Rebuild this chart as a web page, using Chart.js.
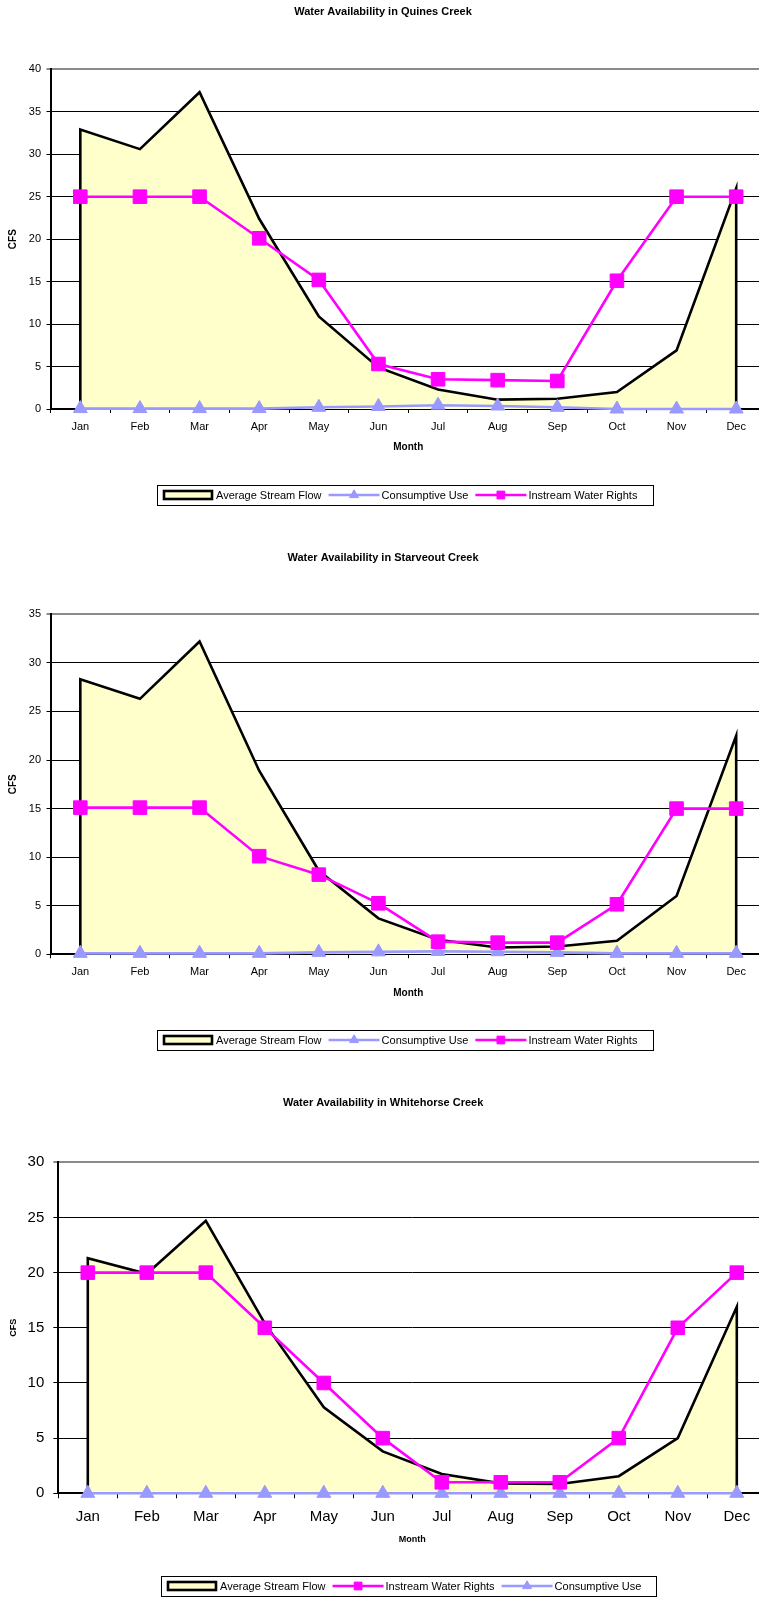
<!DOCTYPE html>
<html>
<head>
<meta charset="utf-8">
<title>Water Availability</title>
<script src="https://cdn.jsdelivr.net/npm/chart.js@4.4.0/dist/chart.umd.min.js"></script>
<style>
  html, body { margin: 0; padding: 0; background: #fff; overflow: hidden; }
  #page { position: relative; width: 759px; height: 1597px; overflow: hidden; background: #fff; }
  .panel { position: absolute; left: 0; }
  .panel canvas { display: block; }
</style>
</head>
<body>
<div id="page">
  <div class="panel" style="top:0px"><canvas id="quines" width="780" height="530"></canvas></div>
  <div class="panel" style="top:530px"><canvas id="starveout" width="780" height="535"></canvas></div>
  <div class="panel" style="top:1065px"><canvas id="whitehorse" width="780" height="532"></canvas></div>
</div>
<script>
// Monthly values in cubic feet per second
const months = ['Jan', 'Feb', 'Mar', 'Apr', 'May', 'Jun', 'Jul', 'Aug', 'Sep', 'Oct', 'Nov', 'Dec'];

const quinesFlow   = [32.9, 30.6, 37.3, 22.4, 10.9, 4.9, 2.3, 1.1, 1.2, 2.0, 6.9, 26.0];
const quinesUse    = [0.05, 0.05, 0.05, 0.05, 0.2, 0.3, 0.45, 0.35, 0.2, 0.0, 0.0, 0.0];
const quinesRights = [25, 25, 25, 20.1, 15.2, 5.3, 3.5, 3.4, 3.3, 15.1, 25, 25];

const starveFlow   = [28.3, 26.3, 32.2, 18.9, 8.6, 3.7, 1.5, 0.7, 0.8, 1.4, 6.0, 22.5];
const starveUse    = [0.1, 0.1, 0.1, 0.1, 0.2, 0.25, 0.3, 0.27, 0.2, 0.1, 0.1, 0.1];
const starveRights = [15.1, 15.1, 15.1, 10.1, 8.2, 5.25, 1.3, 1.2, 1.2, 5.15, 15.0, 15.0];

const whiteFlow    = [21.3, 19.9, 24.7, 15.4, 7.8, 3.8, 1.75, 0.9, 0.85, 1.55, 5.0, 16.9];
const whiteRights  = [20, 20, 20, 15, 10, 5, 1, 1, 1, 5, 15, 20];
const whiteUse     = [0, 0, 0, 0, 0, 0, 0, 0, 0, 0, 0, 0];

const yMaxQuines = 40, yMaxStarve = 35, yMaxWhite = 30;

const FONT = '"Liberation Sans", Arial, Helvetica, sans-serif';
const FLOW_FILL = '#FFFFCC';
const USE_COLOR = '#9999FF';
const RIGHTS_COLOR = '#FF00FF';

Chart.defaults.font.family = FONT;
Chart.defaults.color = '#000';

// Area series closed down to zero at both ends so the outline includes the vertical edges
function flowDataset(values) {
  const pts = [{ x: months[0], y: 0 }];
  values.forEach((v, i) => pts.push({ x: months[i], y: v }));
  pts.push({ x: months[months.length - 1], y: 0 });
  return {
    label: 'Average Stream Flow',
    data: pts,
    fill: 'origin',
    backgroundColor: FLOW_FILL,
    borderColor: '#000',
    borderWidth: 2.6,
    pointRadius: 0,
    pointHoverRadius: 0,
    tension: 0,
    order: 3,
    legendKind: 'area'
  };
}

function useDataset(values) {
  return {
    label: 'Consumptive Use',
    data: values,
    borderColor: USE_COLOR,
    backgroundColor: USE_COLOR,
    borderWidth: 2.6,
    pointStyle: 'triangle',
    pointRadius: 8,
    pointBorderWidth: 1,
    pointBackgroundColor: USE_COLOR,
    pointBorderColor: USE_COLOR,
    fill: false,
    tension: 0,
    clip: false,
    order: 2
  };
}

function rightsDataset(values) {
  return {
    label: 'Instream Water Rights',
    data: values,
    borderColor: RIGHTS_COLOR,
    backgroundColor: RIGHTS_COLOR,
    borderWidth: 2.6,
    pointStyle: 'rect',
    pointRadius: 9.6,
    pointBorderWidth: 1,
    pointBackgroundColor: RIGHTS_COLOR,
    pointBorderColor: RIGHTS_COLOR,
    fill: false,
    tension: 0,
    clip: false,
    order: 1
  };
}

// Bordered legend strip drawn below the plot
const boxLegend = {
  id: 'boxLegend',
  afterDraw(chart, args, o) {
    const ctx = chart.ctx;
    ctx.save();
    ctx.font = '11px ' + FONT;
    ctx.textBaseline = 'middle';
    ctx.textAlign = 'left';
    const cy = o.top + o.height / 2;
    let x = o.left + 6;
    chart.data.datasets.forEach(ds => {
      if (ds.legendKind === 'area') {
        ctx.fillStyle = ds.backgroundColor;
        ctx.strokeStyle = ds.borderColor;
        ctx.lineWidth = 2.6;
        ctx.fillRect(x + 1, cy - 4, 48, 8);
        ctx.strokeRect(x + 1, cy - 4, 48, 8);
      } else {
        ctx.strokeStyle = ds.borderColor;
        ctx.lineWidth = 2.6;
        ctx.beginPath();
        ctx.moveTo(x, cy);
        ctx.lineTo(x + 51, cy);
        ctx.stroke();
        ctx.fillStyle = ds.pointBackgroundColor;
        ctx.strokeStyle = ds.pointBorderColor;
        ctx.lineWidth = 1;
        Chart.helpers.drawPoint(ctx, {
          pointStyle: ds.pointStyle,
          radius: ds.pointStyle === 'rect' ? 5.5 : 5.2,
          rotation: 0,
          borderWidth: 1
        }, x + 25.5, cy);
      }
      x += 53;
      ctx.fillStyle = '#000';
      ctx.fillText(ds.label, x, cy + 0.5);
      x += ctx.measureText(ds.label).width + 7;
    });
    ctx.strokeStyle = '#000';
    ctx.lineWidth = 1;
    ctx.strokeRect(o.left + 0.5, o.top + 0.5, o.width, o.height);
    ctx.restore();
  }
};

function makeChart(id, cfg) {
  const g = cfg.geom;
  return new Chart(document.getElementById(id), {
    type: 'line',
    data: { labels: months, datasets: cfg.datasets },
    plugins: [boxLegend],
    options: {
      responsive: false,
      animation: false,
      events: [],
      layout: { padding: { top: 0, left: 0, right: g.padRight, bottom: g.padBottom } },
      plugins: {
        legend: { display: false },
        tooltip: { enabled: false },
        title: {
          display: true,
          text: cfg.title,
          color: '#000',
          font: { size: 11, weight: 'bold', family: FONT },
          padding: { top: g.titleTop, bottom: g.titleBottom }
        },
        boxLegend: g.legend
      },
      scales: {
        x: {
          type: 'category',
          offset: true,
          afterFit: s => { s.height = g.xHeight; },
          grid: {
            display: true,
            offset: true,
            drawOnChartArea: false,
            drawTicks: true,
            tickLength: g.xTick,
            color: '#000',
            lineWidth: 1
          },
          border: { display: true, color: '#000', width: 2 },
          ticks: { font: { size: g.tickFont, family: FONT }, color: '#000', padding: g.xPad, maxRotation: 0, autoSkip: false },
          title: {
            display: true,
            text: 'Month',
            color: '#000',
            font: { size: g.axisTitleFont, weight: 'bold', family: FONT },
            padding: { top: 0, bottom: 1 }
          }
        },
        y: {
          min: 0,
          max: cfg.yMax,
          afterFit: s => { s.width = g.yWidth; },
          grid: {
            color: c => (c.tick && c.tick.value === cfg.yMax ? '#8a8a8a' : '#000'),
            lineWidth: c => (c.tick && c.tick.value === cfg.yMax ? 2 : 1),
            drawTicks: true,
            tickLength: g.yTick
          },
          border: { display: true, color: '#000', width: 2 },
          ticks: { stepSize: 5, font: { size: g.tickFont, family: FONT }, color: '#000', padding: g.yPad },
          title: {
            display: true,
            text: 'CFS',
            color: '#000',
            font: { size: g.cfsFont, weight: 'bold', family: FONT },
            padding: { top: g.cfsPad, bottom: 0 }
          }
        }
      }
    }
  });
}

makeChart('quines', {
  title: 'Water Availability in Quines Creek',
  yMax: yMaxQuines,
  datasets: [flowDataset(quinesFlow), useDataset(quinesUse), rightsDataset(quinesRights)],
  geom: {
    padRight: 14, padBottom: 76, titleTop: 5.4, titleBottom: 50.7,
    xHeight: 45, yWidth: 50.5, xTick: 4, yTick: 4, xPad: 7, yPad: 5.5,
    tickFont: 11, axisTitleFont: 10, cfsFont: 10, cfsPad: 7,
    legend: { left: 157, top: 485, width: 496, height: 20 }
  }
});

makeChart('starveout', {
  title: 'Water Availability in Starveout Creek',
  yMax: yMaxStarve,
  datasets: [flowDataset(starveFlow), useDataset(starveUse), rightsDataset(starveRights)],
  geom: {
    padRight: 14, padBottom: 65, titleTop: 21.4, titleBottom: 49.7,
    xHeight: 45.7, yWidth: 50.5, xTick: 4, yTick: 4, xPad: 7, yPad: 5.5,
    tickFont: 11, axisTitleFont: 10, cfsFont: 10, cfsPad: 7,
    legend: { left: 157, top: 500, width: 496, height: 20 }
  }
});

makeChart('whitehorse', {
  title: 'Water Availability in Whitehorse Creek',
  yMax: yMaxWhite,
  datasets: [flowDataset(whiteFlow), rightsDataset(whiteRights), useDataset(whiteUse)],
  geom: {
    padRight: 13.7, padBottom: 50.6, titleTop: 31.4, titleBottom: 52.7,
    xHeight: 53.1, yWidth: 58.3, xTick: 5, yTick: 5, xPad: 9.7, yPad: 9,
    tickFont: 15, axisTitleFont: 9, cfsFont: 9, cfsPad: 7.9,
    legend: { left: 161, top: 511, width: 495, height: 20 }
  }
});
</script>
</body>
</html>
